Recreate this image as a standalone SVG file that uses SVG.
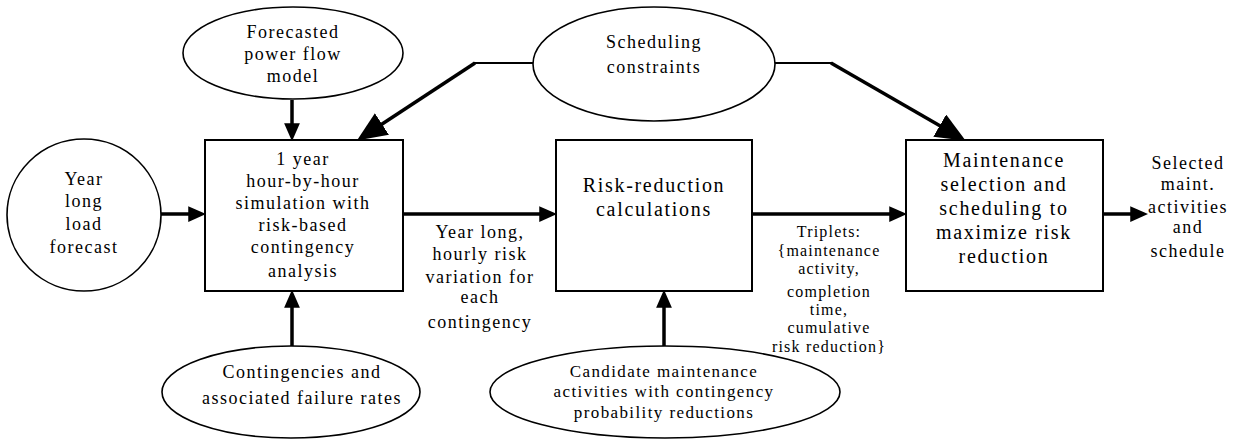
<svg xmlns="http://www.w3.org/2000/svg" width="1233" height="440" viewBox="0 0 1233 440">
<defs>
<style>
text{font-family:"Liberation Serif","Times New Roman",serif;fill:#000;text-anchor:middle}
.t18{font-size:18px;letter-spacing:1.5px}
.t20{font-size:20px;letter-spacing:1.7px}
.t16{font-size:16px;letter-spacing:1.2px}
.t17{font-size:17px;letter-spacing:1.4px}
.ell{fill:#fff;stroke:#000;stroke-width:1.6}
.box{fill:#fff;stroke:#000;stroke-width:2}
.arr{fill:none;stroke:#000;stroke-width:3.5}
.thin{fill:none;stroke:#000;stroke-width:2}
</style>
<marker id="ah" markerUnits="userSpaceOnUse" markerWidth="18" markerHeight="16" viewBox="0 0 16 14" refX="6" refY="7" orient="auto"><path d="M0,0 L16,7 L0,14 z" fill="#000"/></marker>
<marker id="ahL" markerUnits="userSpaceOnUse" markerWidth="30" markerHeight="26" viewBox="0 0 28 24" refX="10" refY="12" orient="auto"><path d="M0,0 L28,12 L0,24 z" fill="#000"/></marker>
</defs>
<g id="connectors">
<line class="arr" x1="160" y1="214" x2="195" y2="214" marker-end="url(#ah)"/>
<line class="arr" x1="292" y1="100" x2="292" y2="130" marker-end="url(#ah)"/>
<line class="arr" x1="292" y1="347" x2="292" y2="301" marker-end="url(#ah)"/>
<line class="arr" x1="403" y1="214" x2="546" y2="214" marker-end="url(#ah)"/>
<line class="arr" x1="664" y1="347" x2="664" y2="301" marker-end="url(#ah)"/>
<line class="arr" x1="752" y1="214" x2="896" y2="214" marker-end="url(#ah)"/>
<line class="arr" x1="1103" y1="214" x2="1137" y2="214" marker-end="url(#ah)"/>
<line class="thin" x1="533" y1="63" x2="474" y2="63"/>
<line class="arr" x1="475" y1="63" x2="373" y2="130" marker-end="url(#ahL)"/>
<line class="thin" x1="774" y1="63" x2="832" y2="63"/>
<line class="arr" x1="831" y1="63" x2="949" y2="131" marker-end="url(#ahL)"/>
</g>
<g id="forecast-model">
<ellipse class="ell" cx="293" cy="53" rx="110" ry="46"/>
<text class="t18" x="293" y="38">Forecasted</text>
<text class="t18" x="293" y="60">power flow</text>
<text class="t18" x="293" y="82">model</text>
</g>
<g id="load-forecast">
<ellipse class="ell" cx="84" cy="215" rx="77" ry="76"/>
<text class="t18" x="84" y="185">Year</text>
<text class="t18" x="84" y="207">long</text>
<text class="t18" x="84" y="230">load</text>
<text class="t18" x="84" y="253">forecast</text>
</g>
<g id="scheduling-constraints">
<ellipse class="ell" cx="654" cy="64" rx="121" ry="57"/>
<text class="t18" x="654" y="48">Scheduling</text>
<text class="t18" x="654" y="73">constraints</text>
</g>
<g id="simulation">
<rect class="box" x="205" y="140" width="198" height="151"/>
<text class="t18" x="303" y="165">1 year</text>
<text class="t18" x="303" y="187">hour-by-hour</text>
<text class="t18" x="303" y="209">simulation with</text>
<text class="t18" x="303" y="231">risk-based</text>
<text class="t18" x="303" y="253">contingency</text>
<text class="t18" x="303" y="277">analysis</text>
</g>
<g id="risk-reduction">
<rect class="box" x="556" y="140" width="196" height="151"/>
<text class="t20" x="654" y="192">Risk-reduction</text>
<text class="t20" x="654" y="216">calculations</text>
</g>
<g id="maintenance-selection">
<rect class="box" x="906" y="140" width="197" height="151"/>
<text class="t20" x="1004" y="167">Maintenance</text>
<text class="t20" x="1004" y="191">selection and</text>
<text class="t20" x="1004" y="215">scheduling to</text>
<text class="t20" x="1004" y="239">maximize risk</text>
<text class="t20" x="1004" y="263">reduction</text>
</g>
<g id="contingencies">
<ellipse class="ell" cx="291" cy="392" rx="129" ry="46"/>
<text class="t18" x="302" y="378">Contingencies and</text>
<text class="t18" x="302" y="404">associated failure rates</text>
</g>
<g id="candidate-activities">
<ellipse class="ell" cx="665" cy="392" rx="175" ry="46"/>
<text class="t17" x="664" y="377">Candidate maintenance</text>
<text class="t17" x="664" y="397">activities with contingency</text>
<text class="t17" x="664" y="418">probability reductions</text>
</g>
<g id="label-risk-variation">
<text class="t18" x="480" y="238">Year long,</text>
<text class="t18" x="480" y="260">hourly risk</text>
<text class="t18" x="480" y="283">variation for</text>
<text class="t18" x="480" y="303">each</text>
<text class="t18" x="480" y="328">contingency</text>
</g>
<g id="label-triplets">
<text class="t16" x="829" y="237">Triplets:</text>
<text class="t16" x="829" y="256">{maintenance</text>
<text class="t16" x="829" y="274">activity,</text>
<text class="t16" x="829" y="297">completion</text>
<text class="t16" x="829" y="315">time,</text>
<text class="t16" x="829" y="333">cumulative</text>
<text class="t16" x="829" y="352">risk reduction}</text>
</g>
<g id="label-output">
<text class="t18" x="1188" y="169">Selected</text>
<text class="t18" x="1188" y="190">maint.</text>
<text class="t18" x="1188" y="213">activities</text>
<text class="t18" x="1188" y="233">and</text>
<text class="t18" x="1188" y="257">schedule</text>
</g>
</svg>
